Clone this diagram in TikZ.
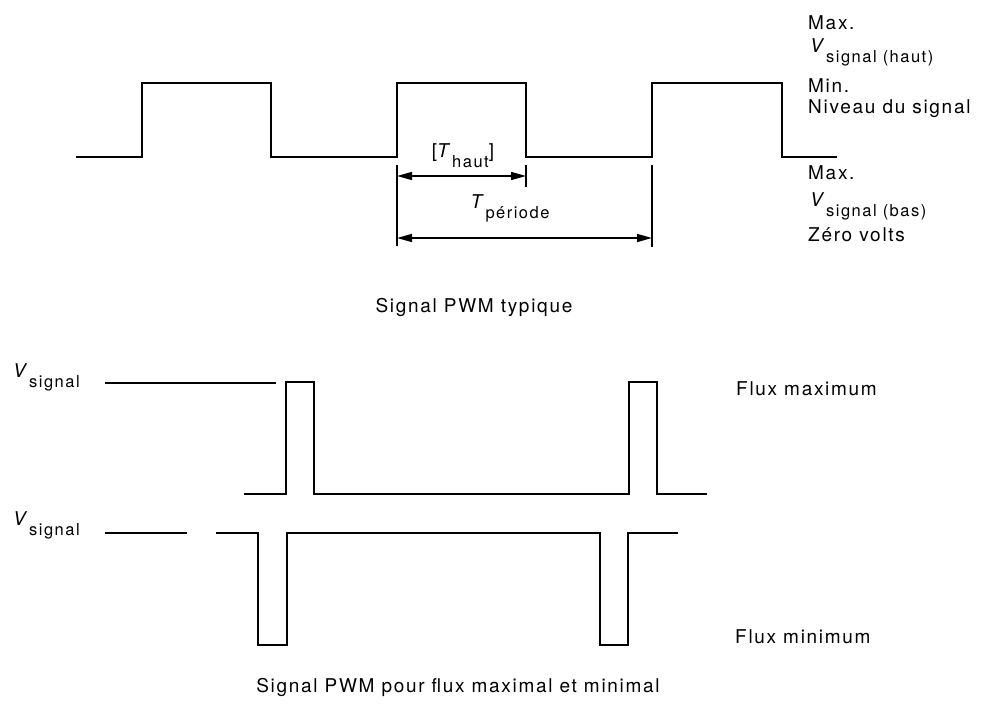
\documentclass[tikz,border=0pt]{standalone}
\usepackage{fontspec}
\setmainfont{TeX Gyre Heros}[LetterSpace=9]
\usetikzlibrary{arrows.meta}
\newcommand{\Vsig}[2]{\textit{#1}\raisebox{-10pt}{\fontsize{16.5}{16.5}\selectfont #2}}
\begin{document}
\begin{tikzpicture}[x=1pt,y=-1pt,
  wave/.style={line width=2.4pt,line join=miter},
  thinline/.style={line width=1.4pt},
  dimline/.style={line width=1.6pt},
  dimarrow/.style={line width=1.6pt,{Triangle[length=15pt,width=8pt]}-{Triangle[length=15pt,width=8pt]}},
  lbl/.style={inner sep=0pt,anchor=base west,font=\fontsize{19}{19}\selectfont},
  captxt/.style={inner sep=0pt,anchor=base,font=\fontsize{19}{19}\selectfont}]
\useasboundingbox (0,0) rectangle (981,704);
% top waveform
\draw[wave] (76,157) -- (142,157) -- (142,83) -- (271,83) -- (271,157) -- (397,157) -- (397,83) -- (526,83) -- (526,157) -- (652,157) -- (652,83) -- (782,83) -- (782,157) -- (837,157);
% dimension ticks
\coordinate (t1a) at (397,165); \coordinate (t1b) at (397,246);
\coordinate (t2a) at (526,165); \coordinate (t2b) at (526,187);
\coordinate (t3a) at (652,165); \coordinate (t3b) at (652,247);
\draw[dimline] (t1a) -- (t1b);
\draw[dimline] (t2a) -- (t2b);
\draw[dimline] (t3a) -- (t3b);
\coordinate (h1) at (397,176); \coordinate (h2) at (526,176);
\coordinate (p1) at (397,238); \coordinate (p2) at (652,238);
\draw[dimarrow] (h1) -- (h2);
\draw[dimarrow] (p1) -- (p2);
\node[captxt] (thaut) at (463,157) {[\Vsig{T}{haut}]};
\node[captxt] (tper) at (510,208) {\Vsig{T}{période}};
% right labels
\node[lbl] (max1) at (808,29) {Max.};
\node[lbl] (vh) at (810,52) {\Vsig{V}{signal (haut)}};
\node[lbl] (min1) at (808,92) {Min.};
\node[lbl] (niv) at (808,113) {Niveau du signal};
\node[lbl] (max2) at (808,179) {Max.};
\node[lbl] (vb) at (810,206) {\Vsig{V}{signal (bas)}};
\node[lbl] (zero) at (808,241) {Zéro volts};
\node[captxt] (cap1) at (474,312) {Signal PWM typique};
% bottom: flux maximum
\node[lbl] (vs1) at (13,377) {\Vsig{V}{signal}};
\draw[thinline] (105,383) -- (276,383);
\draw[wave] (244,494) -- (286,494) -- (286,382) -- (314,382) -- (314,494) -- (629,494) -- (629,382) -- (657,382) -- (657,494) -- (707,494);
\node[lbl] (fmax) at (736,395) {Flux maximum};
% bottom: flux minimum
\node[lbl] (vs2) at (13,525) {\Vsig{V}{signal}};
\draw[thinline] (105,533) -- (187,533);
\draw[wave] (216,533) -- (258,533) -- (258,645) -- (287,645) -- (287,533) -- (600,533) -- (600,645) -- (628,645) -- (628,533) -- (678,533);
\node[lbl] (fmin) at (735,643) {Flux minimum};
\node[captxt] (cap2) at (458,692) {Signal PWM pour flux maximal et minimal};
\end{tikzpicture}
\end{document}
